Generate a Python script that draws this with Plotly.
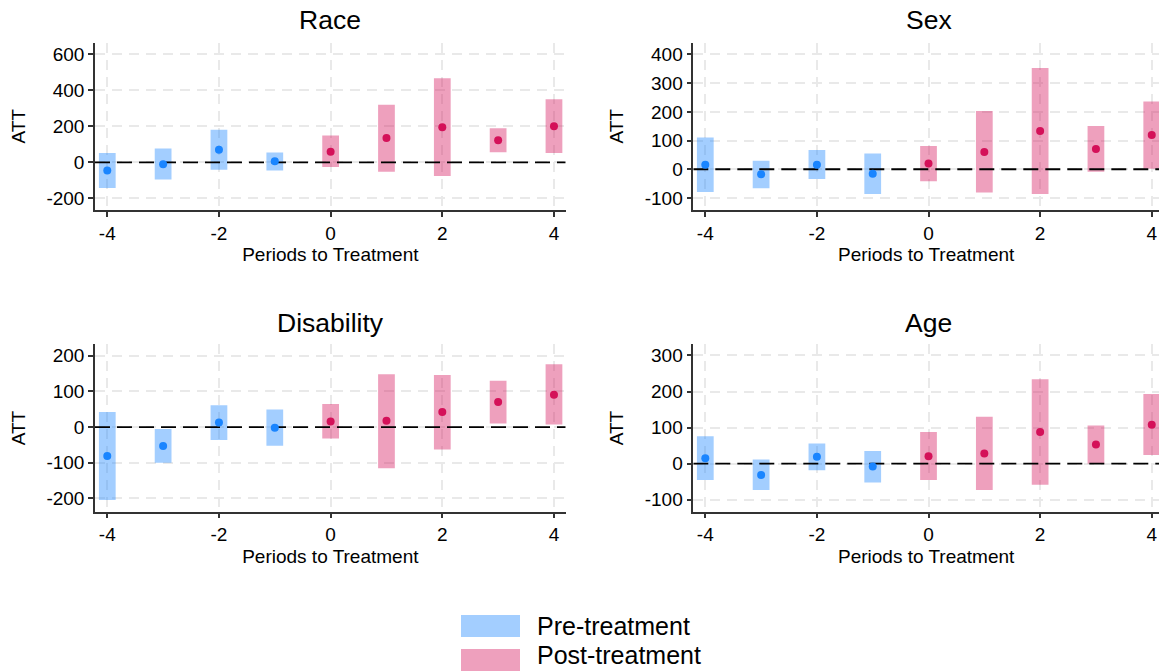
import plotly.graph_objects as go

# ---------------- data ----------------
periods = [-4, -3, -2, -1, 0, 1, 2, 3, 4]

race_att = [-46, -11, 70, 6, 59, 135, 194, 122, 200]
race_lo = [-143, -96, -41, -46, -26, -52, -76, 56, 52]
race_hi = [52, 76, 181, 54, 148, 320, 467, 189, 350]

sex_att = [16, -17, 16, -16, 20, 60, 133, 71, 119]
sex_lo = [-79, -66, -34, -86, -42, -81, -86, -9, 2]
sex_hi = [111, 30, 67, 55, 81, 203, 353, 151, 236]

dis_att = [-81, -53, 13, -2, 16, 18, 42, 70, 91]
dis_lo = [-204, -100, -36, -52, -32, -115, -63, 10, 7]
dis_hi = [42, -5, 61, 49, 65, 148, 146, 130, 176]

age_att = [15, -31, 19, -8, 21, 28, 88, 53, 108]
age_lo = [-45, -73, -18, -52, -45, -73, -58, 0, 24]
age_hi = [76, 12, 56, 35, 88, 130, 234, 106, 193]

panel_titles = ["Race", "Sex", "Disability", "Age"]
x_ticks = [-4, -2, 0, 2, 4]
x_ticktext = ["-4", "-2", "0", "2", "4"]
y_ticks = [
    [-200, 0, 200, 400, 600],
    [-100, 0, 100, 200, 300, 400],
    [-200, -100, 0, 100, 200],
    [-100, 0, 100, 200, 300],
]
legend_labels = ["Pre-treatment", "Post-treatment"]

# ---------------- style ----------------
FONT = "Liberation Sans, Arial, sans-serif"
BLUE_BAR = "rgba(26,133,255,0.40)"
PINK_BAR = "rgba(212,17,89,0.40)"
BLUE_PT = "#1A85FF"
PINK_PT = "#D41159"
GRID = "#e9e9e9"
TICK_SIZE = 19
AX_TITLE_SIZE = 19
TITLE_SIZE = 26.5
LEG_SIZE = 25

W, H = 1159, 672
x_domains = [[95 / W, 565.7 / W], [693.3 / W, 1.0], [95 / W, 565.7 / W], [693.3 / W, 1.0]]
y_domains = [[1 - 210 / H, 1 - 42.7 / H], [1 - 210 / H, 1 - 42.7 / H],
             [1 - 511.7 / H, 1 - 344.3 / H], [1 - 511.7 / H, 1 - 344.3 / H]]
x_ranges = [[-4.22, 4.21], [-4.215, 4.13], [-4.22, 4.21], [-4.215, 4.13]]
y_ranges = [[-265, 664], [-142, 441], [-237, 232], [-133, 331]]
title_y = [20, 20, 323, 323]

panels = [
    (race_att, race_lo, race_hi),
    (sex_att, sex_lo, sex_hi),
    (dis_att, dis_lo, dis_hi),
    (age_att, age_lo, age_hi),
]

fig = go.Figure()

for i, (att, lo, hi) in enumerate(panels):
    xa = "x" if i == 0 else f"x{i+1}"
    ya = "y" if i == 0 else f"y{i+1}"
    pre = [k for k, p in enumerate(periods) if p < 0]
    post = [k for k, p in enumerate(periods) if p >= 0]
    for idx, col in ((pre, BLUE_BAR), (post, PINK_BAR)):
        fig.add_trace(go.Bar(
            x=[periods[k] for k in idx],
            y=[hi[k] - lo[k] for k in idx],
            base=[lo[k] for k in idx],
            width=0.3, marker=dict(color=col, line=dict(width=0)),
            xaxis=xa, yaxis=ya, showlegend=False, hoverinfo="skip"))
    # zero reference line
    fig.add_trace(go.Scatter(
        x=x_ranges[i], y=[0, 0], mode="lines",
        line=dict(color="black", width=1.8, dash="15px,7px"),
        xaxis=xa, yaxis=ya, showlegend=False, hoverinfo="skip"))
    for idx, col in ((pre, BLUE_PT), (post, PINK_PT)):
        fig.add_trace(go.Scatter(
            x=[periods[k] for k in idx], y=[att[k] for k in idx],
            mode="markers", marker=dict(color=col, size=8),
            xaxis=xa, yaxis=ya, showlegend=False))

layout = dict(
    width=W, height=H,
    margin=dict(l=0, r=0, t=0, b=0),
    paper_bgcolor="white", plot_bgcolor="white",
    font=dict(family=FONT, color="black", size=TICK_SIZE),
    showlegend=False, barmode="overlay",
)

axis_common = dict(
    showline=True, linecolor="#333333", linewidth=1.5,
    ticks="outside", ticklen=5, tickwidth=1.5, tickcolor="#333333",
    showgrid=True, gridcolor=GRID, gridwidth=1.5, griddash="10px,7px",
    zeroline=False, tickfont=dict(size=TICK_SIZE, family=FONT, color="black"),
)

for i in range(4):
    xk = "xaxis" if i == 0 else f"xaxis{i+1}"
    yk = "yaxis" if i == 0 else f"yaxis{i+1}"
    ya = "y" if i == 0 else f"y{i+1}"
    xa = "x" if i == 0 else f"x{i+1}"
    layout[xk] = dict(axis_common, domain=x_domains[i], range=x_ranges[i], anchor=ya,
                      tickvals=x_ticks, ticktext=x_ticktext,
                      title=dict(text="Periods to Treatment", standoff=5,
                                 font=dict(size=AX_TITLE_SIZE, family=FONT)))
    layout[yk] = dict(axis_common, domain=y_domains[i], range=y_ranges[i], anchor=xa,
                      tickvals=y_ticks[i], ticktext=[str(v) for v in y_ticks[i]],
                      title=dict(text="ATT", standoff=16,
                                 font=dict(size=AX_TITLE_SIZE, family=FONT)))

fig.update_layout(**layout)

# panel titles
for i, t in enumerate(panel_titles):
    cx = (x_domains[i][0] + (x_domains[i][0] + (565.7 - 95) / W)) / 2
    fig.add_annotation(text=t, x=cx, y=1 - title_y[i] / H, xref="paper", yref="paper",
                       xanchor="center", yanchor="middle", showarrow=False,
                       font=dict(size=TITLE_SIZE, family=FONT, color="black"))

# legend (manual)
leg_cols = [BLUE_BAR, PINK_BAR]
swatch_y = [626, 660]
text_y = [626, 655]
for lab, col, ys, yt in zip(legend_labels, leg_cols, swatch_y, text_y):
    fig.add_shape(type="rect", xref="paper", yref="paper",
                  x0=461 / W, x1=520 / W, y0=1 - (ys + 11) / H, y1=1 - (ys - 11) / H,
                  fillcolor=col, line=dict(width=0))
    fig.add_annotation(text=lab, x=535 / W, y=1 - yt / H, xref="paper", yref="paper",
                       xanchor="left", yanchor="middle", showarrow=False,
                       font=dict(size=LEG_SIZE, family=FONT, color="black"))

fig.write_html("out.html")
